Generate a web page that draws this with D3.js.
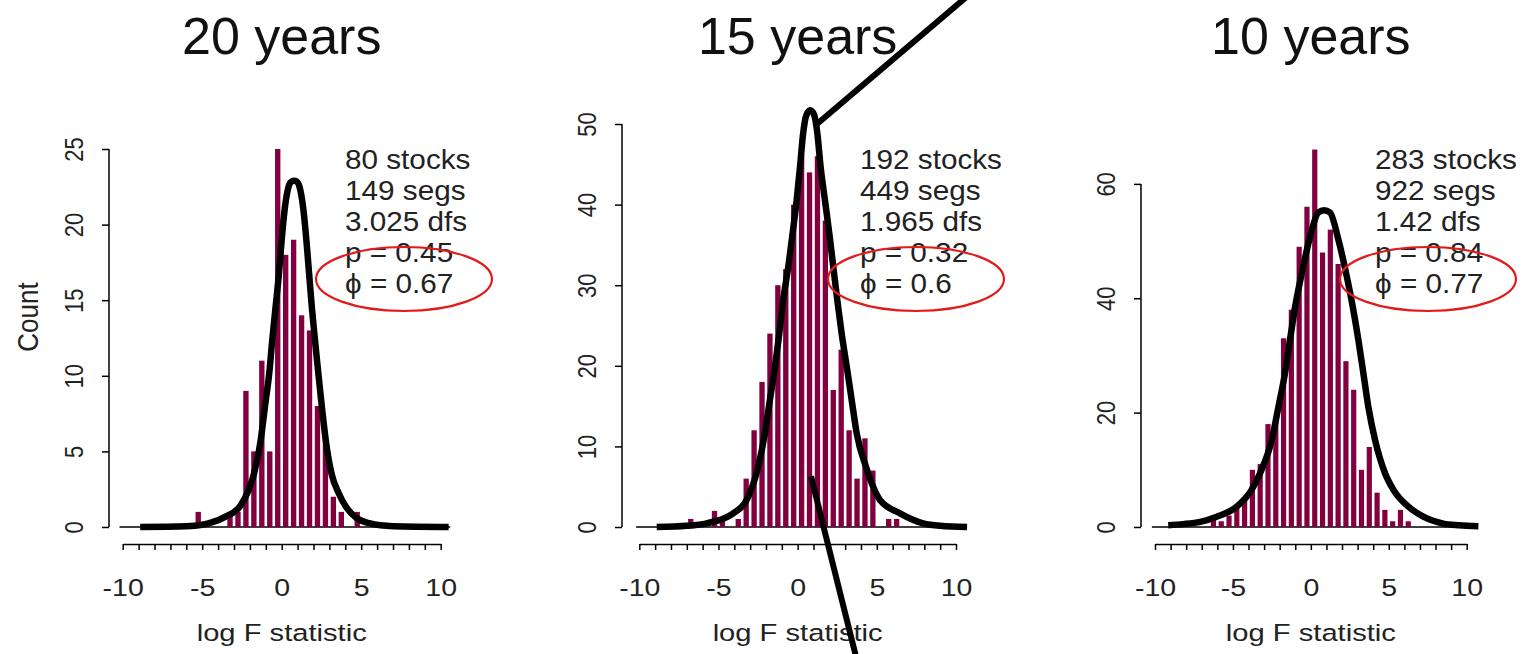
<!DOCTYPE html>
<html>
<head>
<meta charset="utf-8">
<script src="https://cdn.jsdelivr.net/npm/d3@7"></script>
<style>
body { margin: 0; background: #fff; }
text { font-family: "Liberation Sans", Arial, sans-serif; }
</style>
</head>
<body>
<div id="container"></div>
<script>
// histogram bins: midpoints of 0.5 wide bins of log F, and counts
var mids20 = [-5.25, -3.25, -2.75, -2.25, -1.75, -1.25, -0.75, -0.25, 0.25, 0.75, 1.25, 1.75, 2.25, 2.75, 3.25, 3.75, 4.75];
var counts20 = [1, 1, 1, 9, 5, 11, 5, 25, 18, 19, 14, 13, 8, 6, 2, 1, 1];

var mids15 = [-6.75, -5.25, -4.75, -3.75, -3.25, -2.75, -2.25, -1.75, -1.25, -0.75, -0.25, 0.25, 0.75, 1.25, 1.75, 2.25, 2.75, 3.25, 3.75, 4.25, 4.75, 5.75, 6.25];
var counts15 = [1, 2, 1, 1, 6, 12, 18, 24, 30, 32, 40, 46, 44, 46, 38, 17, 22, 12, 6, 11, 7, 1, 1];

var mids10 = [-6.25, -5.75, -5.25, -4.75, -4.25, -3.75, -3.25, -2.75, -2.25, -1.75, -1.25, -0.75, -0.25, 0.25, 0.75, 1.25, 1.75, 2.25, 2.75, 3.25, 3.75, 4.25, 4.75, 5.25, 5.75, 6.25];
var counts10 = [2, 1, 2, 4, 5, 10, 11, 18, 19, 33, 38, 49, 56, 66, 48, 52, 46, 29, 24, 10, 14, 6, 3, 1, 3, 1];

// fitted density curves as [log F, count]
var curve20 = [[-8.9, 0], [-6, 0.05], [-5, 0.15], [-4.4, 0.3], [-3.5, 0.7], [-2.6, 1.4], [-2.1, 2.4], [-1.75, 3.5],
  [-1.32, 5.75], [-1.05, 8], [-0.78, 10.2], [-0.59, 12.4], [-0.38, 14.6], [-0.17, 16.8], [0, 19], [0.21, 21.2],
  [0.46, 22.6], [0.62, 22.85], [0.78, 22.9], [0.94, 22.85], [1.09, 22.6], [1.34, 21.2], [1.55, 19], [1.72, 16.8],
  [1.89, 14.6], [2.09, 12.4], [2.3, 10.2], [2.52, 8], [2.77, 5.75], [3.14, 3.5], [3.6, 2.2], [4.03, 1.35],
  [4.7, 0.6], [5.5, 0.25], [7, 0.05], [10.5, 0]];
var curve15 = [[-8.9, 0], [-7, 0.15], [-5.75, 0.46], [-4.07, 1.7], [-3.22, 3.35], [-2.49, 7.5], [-2.07, 11.6],
  [-1.75, 15.8], [-1.43, 19.9], [-1.16, 24], [-0.91, 28.2], [-0.59, 32.3], [-0.32, 36.4], [-0.06, 40.6], [0.15, 44.7],
  [0.35, 48.9], [0.55, 51.1], [0.8, 51.7], [1.05, 51.1], [1.24, 48.9], [1.45, 44.7], [1.72, 40.6], [2.0, 36.4],
  [2.25, 32.3], [2.5, 28.2], [2.78, 24], [3.1, 19.9], [3.41, 15.8], [3.73, 11.6], [4.31, 7.5], [5.2, 3.35],
  [6.46, 1.7], [7.93, 0.46], [9, 0.15], [10.7, 0]];
var curve10 = [[-9.15, 0.3], [-8.2, 0.5], [-7.1, 0.9], [-6.04, 1.8], [-4.76, 3.55], [-3.8, 6.5], [-3.26, 9.4],
  [-2.51, 15.2], [-2.08, 21], [-1.66, 26.9], [-1.34, 32.7], [-1.01, 38.5], [-0.58, 44.4], [-0.1, 50.2], [0.48, 55],
  [0.85, 55.4], [1.23, 55], [1.77, 50.2], [2.26, 44.4], [2.69, 38.5], [3.05, 32.7], [3.37, 26.9], [3.69, 21],
  [4.12, 15.2], [4.76, 9.4], [5.3, 6.5], [6.26, 3.55], [7.22, 1.8], [8.5, 0.6], [9.5, 0.3], [10.75, 0.15]];

var titles = ["20 years", "15 years", "10 years"];
var notes20 = ["80 stocks", "149 segs", "3.025 dfs", "p = 0.45", "\u03d5 = 0.67"];
var notes15 = ["192 stocks", "449 segs", "1.965 dfs", "p = 0.32", "\u03d5 = 0.6"];
var notes10 = ["283 stocks", "922 segs", "1.42 dfs", "p = 0.84", "\u03d5 = 0.77"];

var xLabelTicks = [-10, -5, 0, 5, 10];
var yTicks20 = [0, 5, 10, 15, 20, 25];
var yTicks15 = [0, 10, 20, 30, 40, 50];
var yTicks10 = [0, 20, 40, 60];
var yMax = [25, 46.9, 66.1];   // count at the top of each plot region
var zeroLine = [-10.2, 10.6];

// the two pen strokes drawn over the 15 years panel, in its data units
var pointers15 = [[[1.22, 50], [11.4, 67]], [[0.84, 6.3], [3.8, -17]]];

var panels = [
  {mids: mids20, counts: counts20, curve: curve20, notes: notes20, yTicks: yTicks20},
  {mids: mids15, counts: counts15, curve: curve15, notes: notes15, yTicks: yTicks15},
  {mids: mids10, counts: counts10, curve: curve10, notes: notes10, yTicks: yTicks10}
];
// pixel frame of each panel
var layout = [
  {x0: 122.7, x1: 440.7, axisX: 109, noteX: 345, ellX: 404},
  {x0: 639.3, x1: 956, axisX: 622, noteX: 860, ellX: 916},
  {x0: 1155, x1: 1466.7, axisX: 1141, noteX: 1375, ellX: 1428}
];
var yBase = 527, yTopPx = 149, xAxisY = 544;
var barColor = "#82003f";

var svg = d3.select("#container")
  .append("svg")
    .attr("width", 1524)
    .attr("height", 654);

function label(g, s, x, y, size, sx, anchor, rot) {
  return g.append("text")
    .attr("transform", "translate(" + x + "," + y + ") scale(" + sx + ",1)" + (rot ? " rotate(-90)" : ""))
    .attr("text-anchor", anchor)
    .attr("font-size", size + "px")
    .attr("fill", "#222")
    .text(s);
}

panels.forEach(function(p, i) {
  var L = layout[i];
  var g = svg.append("g");
  var x = d3.scaleLinear().domain([-10, 10]).range([L.x0, L.x1]);
  var y = d3.scaleLinear().domain([0, yMax[i]]).range([yBase, yTopPx]);

  // zero line
  g.append("line")
    .attr("x1", x(zeroLine[0])).attr("x2", x(zeroLine[1]))
    .attr("y1", y(0)).attr("y2", y(0))
    .attr("stroke", "black").attr("stroke-width", 1.4);

  // bars
  var bw = x(0.5) - x(0);
  g.selectAll("rect.bar")
    .data(p.mids.map(function(m, k) { return {m: m, c: p.counts[k]}; }))
    .enter()
    .append("rect")
      .attr("class", "bar")
      .attr("x", function(d) { return x(d.m - 0.25) + 1.3; })
      .attr("width", bw - 2.6)
      .attr("y", function(d) { return y(d.c); })
      .attr("height", function(d) { return y(0) - y(d.c); })
      .attr("fill", barColor);

  // fitted curve
  g.append("path")
    .datum(p.curve)
    .attr("d", d3.line()
      .x(function(d) { return x(d[0]); })
      .y(function(d) { return y(d[1]); })
      .curve(d3.curveMonotoneX))
    .attr("fill", "none")
    .attr("stroke", "black")
    .attr("stroke-width", 6.5)
    .attr("stroke-linejoin", "round");

  // x axis: a tick every unit, labels every 5
  var xa = g.append("g")
    .attr("transform", "translate(0," + xAxisY + ")")
    .call(d3.axisBottom(x)
      .tickValues(d3.range(-10, 11))
      .tickSize(6)
      .tickSizeOuter(0)
      .tickFormat(function(d) { return xLabelTicks.indexOf(d) >= 0 ? d : ""; }));
  xa.selectAll("path, line").attr("stroke-width", 1.5);
  xa.selectAll("text")
    .attr("y", 52).attr("dy", null)
    .attr("font-size", "23px")
    .attr("font-family", null)
    .attr("fill", "#222")
    .attr("transform", "scale(1.24,1)");

  label(g, "log F statistic", x(0), 641, 23.5, 1.24, "middle", false);

  // y axis
  var ya = g.append("g")
    .attr("transform", "translate(" + L.axisX + ",0)")
    .call(d3.axisLeft(y).tickValues(p.yTicks).tickSize(7).tickSizeOuter(0));
  ya.select(".domain").remove();
  ya.append("line")
    .attr("y1", y(0)).attr("y2", y(p.yTicks[p.yTicks.length - 1]))
    .attr("stroke", "black").attr("stroke-width", 1.5);
  ya.selectAll("line").attr("stroke-width", 1.5);
  ya.selectAll("text")
    .attr("x", null).attr("dy", null)
    .attr("font-size", "22px")
    .attr("font-family", null)
    .attr("fill", "#222")
    .attr("text-anchor", "middle")
    .attr("transform", "translate(-26,0) scale(1.2,1) rotate(-90)");

  // title
  g.append("text")
    .attr("x", x(0)).attr("y", 54)
    .attr("text-anchor", "middle")
    .attr("font-size", "52px")
    .attr("fill", "#111")
    .text(titles[i]);

  // fit summary
  p.notes.forEach(function(s, k) {
    label(g, s, L.noteX, 169 + 31 * k, 27, 1.1, "start", false);
  });

  g.append("ellipse")
    .attr("cx", L.ellX).attr("cy", 279)
    .attr("rx", 88).attr("ry", 32)
    .attr("fill", "none")
    .attr("stroke", "#e41a1a")
    .attr("stroke-width", 2.2);

  if (i == 0) label(g, "Count", 38, 317, 26, 1.1, "middle", true);

  if (i == 1) {
    pointers15.forEach(function(seg) {
      g.append("line")
        .attr("x1", x(seg[0][0])).attr("y1", y(seg[0][1]))
        .attr("x2", x(seg[1][0])).attr("y2", y(seg[1][1]))
        .attr("stroke", "black").attr("stroke-width", 6);
    });
  }
});
</script>
</body>
</html>
